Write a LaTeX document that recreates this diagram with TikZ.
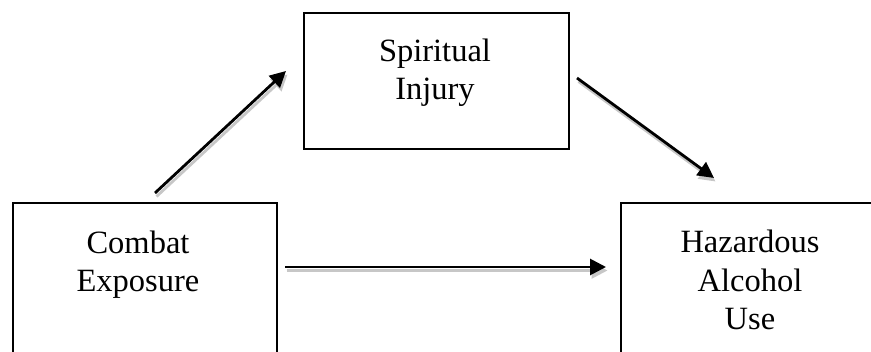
\documentclass[tikz,border=0pt]{standalone}
\usepackage{fontspec}
\setmainfont{Liberation Serif}
\usetikzlibrary{arrows.meta}

\tikzset{
  box/.style={draw=black, line width=2pt, fill=none, inner sep=0pt, anchor=north west},
  label text/.style={font=\fontsize{32.5}{38.5}\selectfont, align=center, anchor=base, inner sep=0pt},
  link/.style={line width=2.8pt, -{Triangle[length=16pt,width=16pt]}},
  link shadow/.style={line width=2.8pt, draw=black!22, fill=black!22, -{Triangle[length=16pt,width=16pt]}},
  sh/.style={shift={(1.5,3.5)}},
}

\begin{document}
\begin{tikzpicture}[x=1pt, y=-1pt]
  \useasboundingbox (0,0) rectangle (871,352);
  \clip (0,0) rectangle (871,352);

  % the three boxes (the lower two run past the bottom edge)
  \node[box, minimum width=265pt, minimum height=136pt] (sbox) at (303,12) {};
  \node[box, minimum width=264pt, minimum height=200pt] (cbox) at (12,202) {};
  \node[box, minimum width=280pt, minimum height=200pt] (hbox) at (620,202) {};

  % box texts, placed by the baseline of their last line
  \node[label text] (stext) at (435,100) {Spiritual\\Injury};
  \node[label text] (ctext) at (138,292) {Combat\\Exposure};
  \node[label text] (htext) at (750,330) {Hazardous\\Alcohol\\Use};

  % free arrow ends
  \coordinate (a1s) at (155,193);
  \coordinate (a1e) at (286,71);
  \coordinate (a2s) at (577,78);
  \coordinate (a2e) at (714,178);
  \coordinate (a3s) at (285,267);
  \coordinate (a3e) at (606,267);

  % shadows first, then the arrows on top
  \draw[link shadow] ([sh]a1s) -- ([sh]a1e);
  \draw[link shadow] ([sh]a2s) -- ([sh]a2e);
  \draw[link shadow] ([sh]a3s) -- ([sh]a3e);
  \draw[link] (a1s) -- (a1e);
  \draw[link] (a2s) -- (a2e);
  \draw[link] (a3s) -- (a3e);
\end{tikzpicture}
\end{document}
